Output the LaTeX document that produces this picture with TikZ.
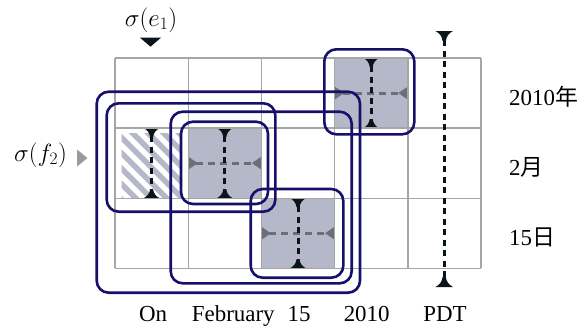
\RequirePackage{fix-cm}
\documentclass[tikz,border=0pt]{standalone}
\usepackage{fontspec}
\setmainfont{Liberation Serif}
\newfontfamily\cjk{Noto Sans CJK JP}
\definecolor{gridgray}{HTML}{A6A6A6}
\definecolor{cellgray}{HTML}{B4B8C8}
\definecolor{dashgray}{HTML}{6C6F79}
\definecolor{navy}{HTML}{16106A}
\definecolor{inkblack}{HTML}{0A1519}
\definecolor{markgray}{HTML}{9A9A9A}
\tikzset{
  gridline/.style={draw=gridgray,line width=1.4bp},
  vline/.style={draw=inkblack,line width=3bp,dash pattern=on 6bp off 4.5bp},
  hline/.style={draw=dashgray,line width=3bp,dash pattern=on 7bp off 5bp},
  frame/.style={draw=navy,line width=2.6bp,rounded corners=12bp},
  lbl/.style={inner sep=0pt,font=\fontsize{23}{28}\selectfont},
  mlbl/.style={inner sep=0pt,font=\fontsize{25}{30}\selectfont},
  tip/.pic={\fill[inkblack] (-8,0) -- (8,0) .. controls (4,2) and (2,5) .. (1.5,9) -- (-1.5,9) .. controls (-2,5) and (-4,2) .. cycle;},
  stip/.pic={\fill[dashgray] (-6.5,0) -- (6.5,0) -- (0,9.5) -- cycle;}
}
\newcommand\markcell[1]{%
  \begin{scope}[shift={#1}]
    \fill[cellgray] (0,0) rectangle (73.2,70.1);
    \draw[hline] (8,35.05) -- (65.2,35.05);
    \pic[rotate=90] at (0,35.05) {stip};
    \pic[rotate=-90] at (73.2,35.05) {stip};
    \draw[vline] (36.6,8) -- (36.6,62);
    \pic at (36.6,0) {tip};
    \pic[rotate=180] at (36.6,70.1) {tip};
  \end{scope}}
\begin{document}
\begin{tikzpicture}[x=1bp,y=-1bp]
\useasboundingbox (0,0) rectangle (586,326);
% hatched cell
\begin{scope}
  \clip (121.5,133) rectangle (182,197.5);
  \foreach \i in {-90,-74.5,...,80}
    \draw[cellgray,line width=5.5bp] (121.5+\i,125) -- ++(85,85);
\end{scope}
\draw[vline] (151.6,136) -- (151.6,190);
\pic at (151.6,128.1) {tip};
\pic[rotate=180] at (151.6,198.2) {tip};
% filled cells
\markcell{(188.2,128.1)}
\markcell{(334.6,58)}
\markcell{(261.4,198.2)}
% grid
\foreach \gx in {115,188.2,261.4,334.6,407.8,481}
  \draw[gridline] (\gx,58) -- (\gx,268.3);
\foreach \gy in {58,128.1,198.2,268.3}
  \draw[gridline] (115,\gy) -- (481,\gy);
% PDT column marker
\coordinate (pdttop) at (444.2,31);
\coordinate (pdtbot) at (444.2,287);
\draw[vline] (444.2,40) -- (444.2,278);
\pic[scale=1.1] at (pdttop) {tip};
\pic[scale=1.1,rotate=180] at (pdtbot) {tip};
% frames
\draw[frame] (96.7,91.7) rectangle (360,292.7);
\draw[frame] (106.7,103.3) rectangle (275.3,211.7);
\draw[frame] (170.7,111.7) rectangle (351.7,283.3);
\draw[frame] (181,121.7) rectangle (268,204);
\draw[frame] (250.7,189) rectangle (343.3,277.7);
\draw[frame] (324.3,49.3) rectangle (414.3,134.3);
% sigma markers
\node[mlbl] (se) at (151,20) {$\sigma(e_1)$};
\fill[inkblack] (140,37.7) -- (161,37.7) -- (150.5,46.7) -- cycle;
\node[mlbl] (sf) at (40.5,155) {$\sigma(f_2)$};
\fill[markgray] (77,149.5) -- (77,166.5) -- (87.5,158) -- cycle;
% bottom labels
\node[lbl,anchor=base] (w1) at (153,321) {On};
\node[lbl,anchor=base] (w2) at (233.3,321) {February};
\node[lbl,anchor=base] (w3) at (299.2,321) {15};
\node[lbl,anchor=base] (w4) at (366.7,321) {2010};
\node[lbl,anchor=base] (w5) at (445,321) {PDT};
% right labels
\node[lbl,anchor=base west] (r1) at (509,105) {2010{\cjk 年}};
\node[lbl,anchor=base west] (r2) at (509,175.1) {2{\cjk 月}};
\node[lbl,anchor=base west] (r3) at (509,245.2) {15{\cjk 日}};
\end{tikzpicture}
\end{document}
